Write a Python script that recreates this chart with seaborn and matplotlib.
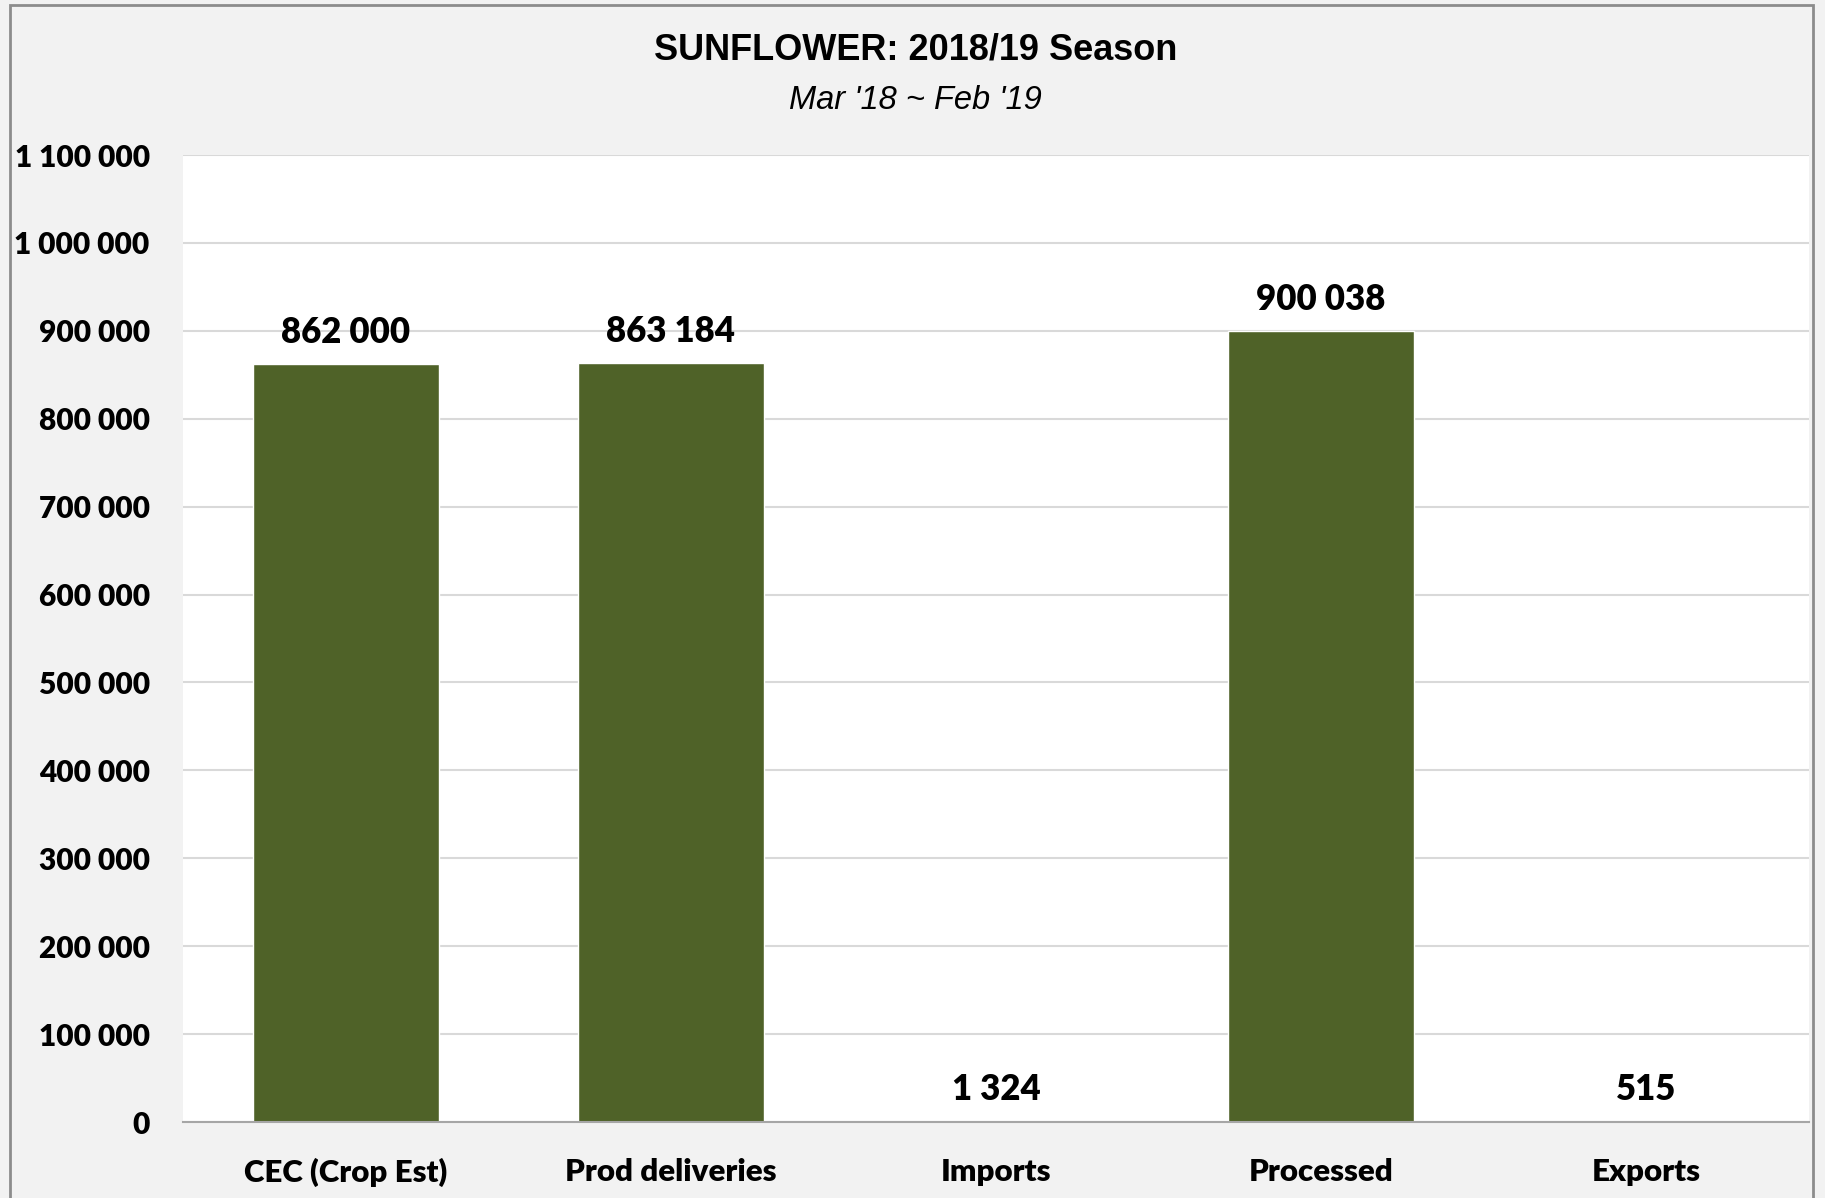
"""
Sunflower 2018/19 season - bar chart (seaborn)
"""

import pandas as pd
import matplotlib.pyplot as plt
import seaborn as sns
from matplotlib.patches import Rectangle
from matplotlib.ticker import FuncFormatter

# ---------------------------------------------------------------------------
# Données
# ---------------------------------------------------------------------------
categories = ["CEC (Crop Est)", "Prod deliveries", "Imports", "Processed", "Exports"]
tonnes = [862000, 863184, 1324, 900038, 515]
y_ticks = list(range(0, 1100001, 100000))

titre = "SUNFLOWER: 2018/19 Season"
sous_titre = "Mar '18 ~ Feb '19"

BAR_COLOR = "#4F6228"
BG_COLOR = "#F2F2F2"


def espace_milliers(v, pos=None):
    return f"{int(round(v)):,}".replace(",", " ")


df = pd.DataFrame({"Categorie": categories, "Tonnes": tonnes})

sns.set_style("white")
plt.rcParams["font.family"] = ["Lato", "DejaVu Sans"]
plt.rcParams["text.color"] = "black"
plt.rcParams["xtick.color"] = "black"
plt.rcParams["ytick.color"] = "black"

fig = plt.figure(figsize=(18.25, 11.98), dpi=100, facecolor=BG_COLOR)
ax = fig.add_axes([0.1003, 0.0634, 0.8909, 0.8072])
ax.set_facecolor("white")

sns.barplot(data=df, x="Categorie", y="Tonnes", color=BAR_COLOR,
            width=0.572, saturation=1, ax=ax, zorder=3)

ax.set_ylim(0, 1100000)
ax.set_yticks(y_ticks)
ax.yaxis.set_major_formatter(FuncFormatter(espace_milliers))
ax.grid(axis="y", color="#D9D9D9", linewidth=1.5, zorder=0)
ax.set_axisbelow(True)

for side in ["left", "right", "top"]:
    ax.spines[side].set_visible(False)
ax.spines["bottom"].set_color("#A6A6A6")
ax.spines["bottom"].set_linewidth(1.5)
ax.spines["bottom"].set_zorder(4)

ax.tick_params(axis="y", length=0, pad=24, labelsize=21.5, labelcolor="black")
ax.tick_params(axis="x", length=0, pad=26, labelsize=22.5, labelcolor="black")
for lab in ax.get_xticklabels() + ax.get_yticklabels():
    lab.set_fontweight("heavy")
ax.set_xlabel("")
ax.set_ylabel("")

# Étiquettes de valeurs
for i, v in enumerate(tonnes):
    ax.annotate(espace_milliers(v), xy=(i, v), xytext=(0, 11),
                textcoords="offset points", ha="center", va="bottom",
                fontsize=25, fontweight="heavy", color="black")

# Titres
fig.text(0.5015, 0.958, titre, ha="center", va="center", fontsize=26,
         fontweight="bold", family=["Liberation Sans Narrow", "Liberation Sans"],
         color="black")
fig.text(0.5015, 0.916, sous_titre, ha="center", va="center", fontsize=23.5,
         style="italic", family=["Liberation Sans Narrow", "Liberation Sans"],
         color="black")

# Cadre extérieur
fig.patches.append(Rectangle((10 / 1825, -0.01), 1803 / 1825, 1.0 - 5 / 1198 + 0.01,
                             transform=fig.transFigure, fill=False,
                             edgecolor="#8C8C8C", linewidth=2))

fig.savefig("out.png", dpi=100, facecolor=BG_COLOR)
